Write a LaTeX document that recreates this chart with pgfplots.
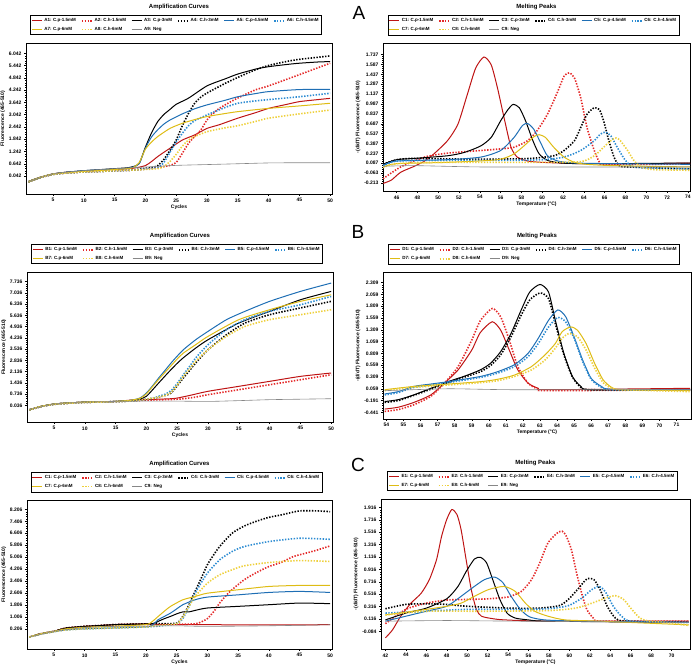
\documentclass[border=0pt]{standalone}
\usepackage{fontspec}
\setmainfont{Liberation Sans}
\usepackage{pgfplots}
\pgfplotsset{compat=1.18}
\definecolor{r1}{RGB}{190,20,20}
\definecolor{r2}{RGB}{228,40,40}
\definecolor{b1}{RGB}{30,110,180}
\definecolor{b2}{RGB}{45,140,210}
\definecolor{y1}{RGB}{222,188,20}
\definecolor{y2}{RGB}{238,208,60}
\definecolor{gy}{RGB}{135,135,135}
\pgfplotsset{
  cp/.style={line width=1pt, smooth, tension=0.4},
  ch/.style={line width=1.6pt, dash pattern=on 1.4pt off 1.5pt, smooth, tension=0.4},
  ng/.style={line width=0.6pt, smooth, tension=0.4},
  myax/.style={scale only axis, anchor=south west,
    axis line style={line width=0.8pt},
    tick align=outside, tick style={black, line width=0.4pt},
    major tick length=2pt, minor tick length=1pt,
    xtick pos=bottom, ytick pos=left,
    minor y tick num=4, minor x tick num=4,
    /pgf/number format/assume math mode=true,
    ticklabel style={font=\bfseries\fontsize{5}{6}\selectfont},
    xticklabel style={yshift=1pt},
    yticklabel style={xshift=1pt, /pgf/number format/.cd, fixed, fixed zerofill, precision=3},
    label style={font=\bfseries\fontsize{5}{6}\selectfont},
    xlabel style={yshift=4pt},
    ylabel style={yshift=-3pt},
    title style={at={(0.5,1)}, anchor=center, yshift=30pt, font=\bfseries\fontsize{6}{7}\selectfont},
    legend columns=6,
    legend cell align=left,
    legend style={at={(0.49,1.053)}, anchor=south, draw=black, line width=0.6pt,
      font=\bfseries\fontsize{4.5}{5.5}\selectfont, inner sep=0.8pt,
      /tikz/every even column/.append style={column sep=3pt}},
    legend image code/.code={\draw[#1] (0pt,0pt) -- (10pt,0pt);},
  },
}
\begin{document}
\begin{tikzpicture}
\path[use as bounding box] (0,0) rectangle (696pt,669pt);
\node[font=\fontsize{19}{20}\selectfont, anchor=center] at (359pt,656pt) {A};
\node[font=\fontsize{19}{20}\selectfont, anchor=center] at (358pt,437pt) {B};
\node[font=\fontsize{19}{20}\selectfont, anchor=center] at (358pt,204pt) {C};

% ---------------- A left ----------------
\begin{axis}[myax, at={(26pt,475pt)}, width=306pt, height=151pt,
  xmin=0.62, xmax=50.3, ymin=-0.84, ymax=6.55,
  xtick={5,10,...,50}, ytick={0.042,0.642,1.242,1.842,2.442,3.042,3.642,4.242,4.842,5.442,6.042},
  title={Amplification Curves}, xlabel={Cycles}, ylabel={Fluorescence (465-510)}]
\addplot[cp, color=r1] coordinates {(1,-0.23)(3,-0.02)(5,0.14)(7,0.22)(10,0.28)(13,0.33)(15,0.36)(18,0.42)(20,0.55)(21,0.75)(22,0.99)(23,1.2)(24,1.40)(26,1.8)(28,2.05)(30,2.37)(32,2.55)(35,2.87)(38,3.15)(40,3.35)(43,3.55)(45,3.68)(48,3.78)(50,3.84)};
\addplot[ch, color=r2] coordinates {(1,-0.25)(3,-0.03)(5,0.12)(7,0.18)(10,0.24)(13,0.27)(15,0.3)(18,0.33)(20,0.38)(22,0.45)(23,0.5)(24,0.56)(25,0.7)(26,1.15)(27,1.64)(28,1.97)(29,2.29)(30,2.78)(31,3.1)(32,3.35)(34,3.7)(36,4.0)(38,4.27)(40,4.45)(45,5.0)(50,5.56)};
\addplot[cp, color=black] coordinates {(1,-0.23)(3,-0.02)(5,0.14)(7,0.22)(10,0.3)(13,0.36)(15,0.4)(17,0.44)(18,0.5)(19,0.65)(20,1.45)(21,2.15)(22,2.7)(23,3.05)(24,3.3)(25,3.55)(27,3.85)(30,4.45)(33,4.8)(35,5.03)(38,5.28)(40,5.39)(43,5.5)(45,5.56)(48,5.62)(50,5.64)};
\addplot[ch, color=black] coordinates {(1,-0.25)(3,-0.03)(5,0.12)(7,0.18)(10,0.24)(13,0.27)(15,0.3)(18,0.33)(20,0.42)(21,0.45)(22,0.55)(23,0.85)(24,1.3)(25,1.8)(26,2.5)(27,3.1)(28,3.6)(29,3.9)(30,4.1)(33,4.58)(36,5.0)(38,5.25)(40,5.45)(43,5.65)(45,5.75)(48,5.85)(50,5.92)};
\addplot[cp, color=b1] coordinates {(1,-0.23)(3,-0.02)(5,0.14)(7,0.22)(10,0.3)(13,0.35)(15,0.38)(17,0.42)(18,0.48)(19,0.65)(20,1.4)(21,1.95)(22,2.3)(23,2.58)(24,2.78)(26,3.08)(28,3.33)(30,3.52)(33,3.75)(35,3.92)(38,4.08)(40,4.17)(45,4.27)(50,4.28)};
\addplot[ch, color=b2] coordinates {(1,-0.25)(3,-0.03)(5,0.12)(7,0.18)(10,0.24)(13,0.27)(15,0.3)(18,0.33)(20,0.38)(22,0.45)(23,0.7)(24,1.2)(25,1.7)(26,2.13)(27,2.5)(28,2.75)(30,3.03)(33,3.4)(35,3.6)(38,3.72)(40,3.78)(45,3.92)(50,4.09)};
\addplot[cp, color=y1] coordinates {(1,-0.23)(3,-0.02)(5,0.14)(7,0.2)(10,0.27)(13,0.32)(15,0.36)(17,0.4)(18,0.45)(19,0.7)(20,1.35)(21,1.7)(22,1.97)(24,2.37)(26,2.62)(28,2.8)(30,2.95)(33,3.1)(35,3.19)(40,3.35)(45,3.47)(50,3.6)};
\addplot[ch, color=y2] coordinates {(1,-0.25)(3,-0.03)(5,0.12)(7,0.18)(10,0.24)(13,0.27)(15,0.3)(18,0.33)(20,0.36)(22,0.4)(23,0.5)(24,0.75)(25,1.1)(26,1.5)(27,1.8)(28,1.97)(30,2.21)(33,2.4)(35,2.5)(38,2.72)(40,2.87)(45,3.08)(50,3.27)};
\addplot[ng, color=gy] coordinates {(1,-0.23)(5,0.14)(10,0.3)(15,0.4)(20,0.48)(25,0.56)(30,0.6)(35,0.64)(40,0.68)(45,0.69)(50,0.69)};
\legend{A1: C.p-1.5mM, A2: C.h-1.5mM, A3: C.p-3mM, A4: C.h-3mM, A5: C.p-4.5mM, A6: C.h-4.5mM, A7: C.p-6mM, A8: C.h-6mM, A9: Neg}
\end{axis}

% ---------------- A right ----------------
\begin{axis}[myax, at={(383pt,478pt)}, width=307pt, height=148pt,
  xmin=44.7, xmax=74.2, ymin=-0.335, ymax=1.913,
  xtick={46,48,...,74}, ytick={-0.213,-0.063,0.087,0.237,0.387,0.537,0.687,0.837,0.987,1.137,1.287,1.437,1.587,1.737},
  title={Melting Peaks}, xlabel={Temperature (°C)}, ylabel={-(d/dT) Fluorescence (465-510)}]
\addplot[cp, color=r1] coordinates {(44.7,-0.22)(45.5,-0.17)(46.4,-0.05)(47.7,0.04)(48.7,0.12)(49.6,0.23)(50.9,0.43)(51.9,0.68)(52.8,1.13)(53.6,1.53)(54.4,1.70)(55.1,1.58)(55.7,1.23)(56.4,0.73)(57,0.33)(57.6,0.18)(58.6,0.12)(60,0.1)(64,0.08)(70,0.08)(74.2,0.09)};
\addplot[ch, color=r2] coordinates {(44.7,-0.15)(46.4,0.03)(48.7,0.18)(50.9,0.24)(54.1,0.28)(55.7,0.3)(57.3,0.33)(58.6,0.43)(59.5,0.58)(60.5,0.83)(61.5,1.18)(62.1,1.41)(62.6,1.46)(63.1,1.38)(63.7,1.08)(64.3,0.63)(65,0.28)(65.5,0.1)(65.9,0.07)(70,0.07)(74.2,0.08)};
\addplot[cp, color=black] coordinates {(44.7,0.07)(46,0.14)(47.7,0.16)(50.9,0.2)(52.5,0.25)(54.1,0.35)(55.1,0.48)(56,0.73)(56.7,0.9)(57.2,0.98)(57.8,0.93)(58.4,0.73)(59.1,0.43)(59.7,0.23)(60.5,0.13)(61.8,0.09)(63.7,0.08)(66.9,0.08)(74.2,0.09)};
\addplot[ch, color=black] coordinates {(44.7,0.07)(46,0.14)(47.7,0.16)(52,0.15)(56,0.15)(58.9,0.16)(61.1,0.2)(62.1,0.28)(63.1,0.43)(63.7,0.63)(64.3,0.83)(65,0.93)(65.5,0.9)(65.9,0.73)(66.4,0.43)(66.9,0.18)(67.4,0.05)(68.2,0.03)(74.2,0.0)};
\addplot[cp, color=b1] coordinates {(44.7,0.05)(46,0.12)(50.9,0.14)(54.1,0.18)(56,0.28)(57.3,0.48)(58.1,0.66)(58.6,0.69)(59.2,0.6)(59.9,0.38)(60.5,0.2)(61.5,0.12)(63.1,0.09)(66.9,0.08)(74.2,0.07)};
\addplot[ch, color=b2] coordinates {(44.7,0.05)(46,0.12)(50,0.13)(56,0.13)(60,0.14)(62.1,0.18)(63.7,0.28)(65,0.43)(65.6,0.53)(66.1,0.56)(66.6,0.5)(67.2,0.33)(67.9,0.15)(68.5,0.05)(69.5,0.02)(74.2,0.0)};
\addplot[cp, color=y1] coordinates {(44.7,0.03)(46,0.08)(50.9,0.1)(55.7,0.14)(57.3,0.23)(58.6,0.4)(59.2,0.49)(59.7,0.52)(60.3,0.48)(61.1,0.33)(62.1,0.18)(63.1,0.1)(64.3,0.07)(66.9,0.05)(74.2,0.03)};
\addplot[ch, color=y2] coordinates {(44.7,0.02)(46,0.08)(50,0.1)(56,0.1)(60,0.1)(63.7,0.11)(65,0.2)(65.9,0.33)(66.6,0.43)(67.1,0.47)(67.5,0.43)(68.2,0.28)(68.8,0.13)(69.5,0.03)(70.7,-0.01)(74.2,-0.02)};
\addplot[ng, color=gy] coordinates {(44.7,0.04)(47.7,0.05)(54.1,0.03)(63.7,0.03)(74.2,0.03)};
\legend{C1: C.p-1.5mM, C2: C.h-1.5mM, C3: C.p-3mM, C4: C.h-3mM, C5: C.p-4.5mM, C6: C.h-4.5mM, C7: C.p-6mM, C8: C.h-6mM, C9: Neg}
\end{axis}

% ---------------- B left ----------------
\begin{axis}[myax, at={(27pt,247pt)}, width=306pt, height=150pt,
  xmin=0.62, xmax=50.3, ymin=-1.0, ymax=8.34,
  xtick={5,10,...,50}, ytick={0.036,0.736,1.436,2.136,2.836,3.536,4.236,4.936,5.636,6.336,7.036,7.736},
  title={Amplification Curves}, xlabel={Cycles}, ylabel={Fluorescence (465-510)}]
\addplot[cp, color=r1] coordinates {(1,-0.23)(3,-0.02)(5,0.12)(7,0.18)(10,0.24)(13,0.27)(15,0.28)(18,0.38)(20,0.4)(22,0.42)(24,0.45)(25,0.49)(27,0.65)(30,0.91)(35,1.22)(40,1.53)(45,1.84)(50,2.05)};
\addplot[ch, color=r2] coordinates {(1,-0.25)(3,-0.03)(5,0.1)(7,0.16)(10,0.22)(13,0.25)(15,0.27)(18,0.32)(20,0.36)(24,0.4)(26,0.45)(28,0.55)(30,0.7)(35,1.01)(40,1.32)(45,1.63)(50,1.94)};
\addplot[cp, color=black] coordinates {(1,-0.23)(3,-0.02)(5,0.12)(7,0.18)(10,0.24)(13,0.27)(15,0.28)(17,0.33)(18,0.36)(19,0.42)(20,0.6)(21,1.0)(22,1.43)(23,1.85)(24,2.26)(25,2.65)(26,3.0)(28,3.6)(30,4.12)(35,5.16)(40,5.89)(45,6.61)(50,7.13)};
\addplot[ch, color=black] coordinates {(1,-0.25)(3,-0.03)(5,0.1)(7,0.16)(10,0.22)(13,0.25)(15,0.27)(18,0.32)(20,0.4)(22,0.55)(23,0.65)(24,0.8)(25,1.25)(26,1.74)(27,2.2)(28,2.67)(30,3.5)(33,4.43)(36,5.16)(40,5.68)(45,6.1)(50,6.51)};
\addplot[cp, color=b1] coordinates {(1,-0.23)(3,-0.02)(5,0.12)(7,0.18)(10,0.24)(13,0.27)(15,0.28)(17,0.33)(18,0.39)(19,0.5)(20,0.8)(21,1.25)(22,1.74)(23,2.2)(24,2.67)(25,3.1)(26,3.5)(28,4.12)(30,4.64)(33,5.37)(36,5.89)(40,6.51)(45,7.13)(50,7.65)};
\addplot[ch, color=b2] coordinates {(1,-0.25)(3,-0.03)(5,0.1)(7,0.16)(10,0.22)(13,0.25)(15,0.27)(18,0.32)(20,0.42)(21,0.48)(22,0.6)(23,0.72)(24,0.95)(25,1.4)(26,1.94)(27,2.45)(28,2.98)(30,3.81)(33,4.75)(36,5.37)(40,5.89)(45,6.3)(50,6.82)};
\addplot[cp, color=y1] coordinates {(1,-0.23)(3,-0.02)(5,0.12)(7,0.18)(10,0.24)(13,0.27)(15,0.28)(17,0.33)(18,0.39)(19,0.48)(20,0.75)(21,1.2)(22,1.65)(23,2.08)(24,2.5)(25,2.92)(26,3.29)(28,3.81)(30,4.33)(35,5.37)(40,5.99)(45,6.51)(50,6.92)};
\addplot[ch, color=y2] coordinates {(1,-0.25)(3,-0.03)(5,0.1)(7,0.16)(10,0.22)(13,0.25)(15,0.27)(18,0.32)(20,0.42)(22,0.55)(23,0.65)(24,0.85)(25,1.3)(26,1.84)(27,2.3)(28,2.78)(30,3.5)(33,4.33)(36,4.95)(40,5.37)(45,5.68)(50,5.99)};
\addplot[ng, color=gy] coordinates {(1,-0.23)(5,0.12)(10,0.24)(15,0.28)(20,0.3)(25,0.3)(30,0.28)(35,0.33)(40,0.39)(45,0.42)(50,0.45)};
\legend{B1: C.p-1.5mM, B2: C.h-1.5mM, B3: C.p-3mM, B4: C.h-3mM, B5: C.p-4.5mM, B6: C.h-4.5mM, B7: C.p-6mM, B8: C.h-6mM, B9: Neg}
\end{axis}

% ---------------- B right ----------------
\begin{axis}[myax, at={(383pt,250pt)}, width=308pt, height=147pt,
  xmin=53.8, xmax=71.85, ymin=-0.58, ymax=2.534,
  xtick={54,55,...,71}, minor x tick num=0, ytick={-0.441,-0.191,0.059,0.309,0.559,0.809,1.059,1.309,1.559,1.809,2.059,2.309},
  title={Melting Peaks}, xlabel={Temperature (°C)}, ylabel={-(d/dT) Fluorescence (465-510)}]
\addplot[cp, color=r1] coordinates {(53.9,-0.37)(54.7,-0.33)(55.6,-0.23)(56.6,-0.07)(57.4,0.18)(58.2,0.46)(59,0.88)(59.5,1.25)(60.2,1.48)(60.7,1.30)(61.2,0.88)(61.7,0.46)(62.3,0.18)(62.9,0.07)(63.5,0.04)(71.8,0.07)};
\addplot[ch, color=r2] coordinates {(53.9,-0.42)(54.7,-0.38)(55.6,-0.28)(56.6,-0.1)(57.4,0.18)(58.2,0.53)(59,1.09)(59.5,1.5)(60.2,1.76)(60.7,1.58)(61.2,1.09)(61.7,0.53)(62.3,0.18)(62.9,0.05)(63.5,0.02)(71.8,0.04)};
\addplot[cp, color=black] coordinates {(53.9,-0.21)(54.7,-0.17)(55.6,-0.07)(56.6,0.07)(57.6,0.21)(58.6,0.33)(59.5,0.46)(60.1,0.6)(60.7,0.85)(61.3,1.23)(61.9,1.73)(62.4,2.11)(63,2.27)(63.5,2.11)(63.9,1.51)(64.4,0.81)(64.9,0.32)(65.4,0.11)(66,0.04)(71.8,0.04)};
\addplot[ch, color=black] coordinates {(53.9,-0.23)(54.7,-0.19)(55.6,-0.08)(56.6,0.05)(57.6,0.19)(58.6,0.31)(59.5,0.42)(60.1,0.55)(60.7,0.78)(61.3,1.16)(61.9,1.62)(62.4,1.94)(63,2.09)(63.5,1.97)(63.9,1.44)(64.4,0.78)(64.9,0.31)(65.4,0.09)(66,0.04)(71.8,0.03)};
\addplot[cp, color=b1] coordinates {(53.9,-0.05)(54.7,0.0)(55.6,0.11)(56.6,0.16)(57.6,0.21)(59.5,0.32)(60.5,0.42)(61.5,0.57)(62.3,0.81)(62.9,1.13)(63.5,1.51)(64.04,1.73)(64.5,1.59)(65,1.16)(65.5,0.67)(66,0.28)(66.6,0.11)(67.2,0.05)(71.8,0.04)};
\addplot[ch, color=b2] coordinates {(53.9,-0.07)(54.7,-0.02)(55.6,0.09)(56.6,0.14)(57.6,0.19)(59.5,0.3)(60.5,0.39)(61.5,0.53)(62.3,0.74)(62.9,1.02)(63.5,1.37)(64.04,1.57)(64.5,1.48)(65,1.13)(65.5,0.64)(66,0.26)(66.6,0.09)(67.2,0.04)(71.8,0.03)};
\addplot[cp, color=y1] coordinates {(53.9,0.04)(55.6,0.11)(57.6,0.16)(59.5,0.21)(60.5,0.26)(61.5,0.35)(62.5,0.53)(63.3,0.78)(63.9,1.02)(64.3,1.27)(64.8,1.37)(65.2,1.3)(65.7,1.02)(66.2,0.6)(66.7,0.25)(67.2,0.09)(67.8,0.04)(71.8,0.02)};
\addplot[ch, color=y2] coordinates {(53.9,0.02)(55.6,0.09)(57.6,0.14)(59.5,0.19)(60.5,0.23)(61.5,0.32)(62.5,0.46)(63.3,0.67)(63.9,0.92)(64.3,1.13)(64.7,1.23)(65.2,1.16)(65.7,0.88)(66.2,0.5)(66.7,0.19)(67.2,0.07)(67.8,0.04)(71.8,0.0)};
\addplot[ng, color=gy] coordinates {(53.9,0.02)(57.6,0.06)(61.5,0.04)(71.8,0.04)};
\legend{D1: C.p-1.5mM, D2: C.h-1.5mM, D3: C.p-3mM, D4: C.h-3mM, D5: C.p-4.5mM, D6: C.h-4.5mM, D7: C.p-6mM, D8: C.h-6mM, D9: Neg}
\end{axis}

% ---------------- C left ----------------
\begin{axis}[myax, at={(27pt,20pt)}, width=305pt, height=149pt,
  xmin=0.62, xmax=50.3, ymin=-1.13, ymax=8.83,
  xtick={5,10,...,50}, ytick={0.206,1.006,1.806,2.606,3.406,4.206,5.006,5.806,6.606,7.406,8.206},
  title={Amplification Curves}, xlabel={Cycles}, ylabel={Fluorescence (465-510)}]
\addplot[cp, color=r1] coordinates {(1,-0.33)(3,-0.1)(5,0.05)(7,0.27)(10,0.38)(13,0.45)(15,0.5)(18,0.53)(20,0.56)(22,0.52)(25,0.5)(30,0.5)(35,0.48)(40,0.48)(45,0.48)(50,0.5)};
\addplot[ch, color=r2] coordinates {(1,-0.33)(3,-0.1)(5,0.05)(7,0.27)(10,0.38)(13,0.45)(15,0.5)(18,0.53)(21,0.5)(25,0.52)(28,0.55)(29,0.68)(30,0.9)(31,1.35)(32,1.94)(33,2.42)(34,2.83)(36,3.5)(38,3.98)(40,4.38)(42,4.65)(44,5.05)(46,5.27)(48,5.5)(50,5.76)};
\addplot[cp, color=black] coordinates {(1,-0.33)(3,-0.1)(5,0.05)(7,0.27)(10,0.38)(13,0.45)(15,0.5)(18,0.53)(21,0.56)(22,0.72)(23,0.9)(24,1.05)(25,1.22)(26,1.35)(27,1.35)(28,1.45)(30,1.61)(35,1.72)(40,1.83)(45,1.94)(50,1.9)};
\addplot[ch, color=black] coordinates {(1,-0.33)(3,-0.1)(5,0.05)(7,0.27)(10,0.38)(13,0.45)(15,0.5)(18,0.53)(22,0.56)(25,0.6)(26,1.05)(27,1.83)(28,2.72)(29,3.6)(30,4.5)(31,5.15)(32,5.72)(34,6.6)(36,7.09)(38,7.41)(40,7.67)(42,7.83)(45,8.1)(48,8.1)(50,8.05)};
\addplot[cp, color=b1] coordinates {(1,-0.33)(3,-0.12)(5,0.03)(7,0.15)(10,0.22)(15,0.28)(20,0.35)(21,0.45)(22,0.83)(23,1.05)(24,1.27)(25,1.55)(26,1.83)(28,2.16)(30,2.34)(35,2.49)(40,2.65)(45,2.72)(50,2.65)};
\addplot[ch, color=b2] coordinates {(1,-0.33)(3,-0.12)(5,0.03)(7,0.15)(10,0.22)(15,0.28)(20,0.35)(22,0.4)(25,0.56)(26,0.9)(27,1.7)(28,2.6)(29,3.3)(30,3.94)(32,4.83)(34,5.38)(36,5.72)(40,6.05)(45,6.27)(50,6.2)};
\addplot[cp, color=y1] coordinates {(1,-0.33)(3,-0.1)(5,0.05)(7,0.22)(10,0.32)(15,0.4)(20,0.5)(21,0.7)(22,1.05)(23,1.4)(24,1.72)(26,2.16)(28,2.38)(30,2.6)(35,2.83)(40,3.05)(45,3.12)(50,3.12)};
\addplot[ch, color=y2] coordinates {(1,-0.33)(3,-0.12)(5,0.03)(7,0.15)(10,0.22)(15,0.28)(20,0.35)(22,0.45)(25,0.56)(26,1.0)(27,1.72)(28,2.38)(30,3.27)(32,3.83)(34,4.16)(36,4.43)(40,4.65)(45,4.78)(50,4.72)};
\addplot[ng, color=gy] coordinates {(1,-0.33)(5,0.05)(10,0.3)(15,0.38)(20,0.4)(25,0.42)(30,0.38)(40,0.42)(50,0.49)};
\legend{C1: C.p-1.5mM, C2: C.h-1.5mM, C3: C.p-3mM, C4: C.h-3mM, C5: C.p-4.5mM, C6: C.h-4.5mM, C7: C.p-6mM, C8: C.h-6mM, C9: Neg}
\end{axis}

% ---------------- C right ----------------
\begin{axis}[myax, at={(381pt,20pt)}, width=309pt, height=150pt,
  xmin=41.57, xmax=71.8, ymin=-0.369, ymax=2.05,
  xtick={42,44,...,70}, ytick={-0.084,0.116,0.316,0.516,0.716,0.916,1.116,1.316,1.516,1.716,1.916},
  title={Melting Peaks}, xlabel={Temperature (°C)}, ylabel={-(d/dT) Fluorescence (465-510)}]
\addplot[cp, color=r1] coordinates {(42,-0.19)(42.7,-0.06)(43.5,0.16)(44.5,0.37)(45.5,0.53)(46.3,0.75)(47,1.07)(47.5,1.45)(48,1.72)(48.5,1.88)(49,1.8)(49.4,1.56)(49.9,1.07)(50.4,0.59)(50.9,0.27)(51.4,0.16)(52.5,0.12)(53.7,0.1)(57.9,0.08)(71.7,0.08)};
\addplot[ch, color=r2] coordinates {(42,0.04)(44,0.27)(46,0.37)(48,0.42)(50,0.43)(52,0.44)(54,0.47)(55.3,0.56)(56.3,0.75)(57.1,1.02)(57.9,1.34)(58.8,1.5)(59.3,1.53)(59.7,1.45)(60.2,1.23)(60.7,0.86)(61.2,0.53)(61.7,0.27)(62.4,0.12)(63.2,0.08)(71.7,0.08)};
\addplot[cp, color=black] coordinates {(42,0.1)(44,0.21)(46,0.29)(48,0.44)(49.1,0.64)(49.9,0.88)(50.7,1.08)(51.3,1.11)(51.9,1.02)(52.5,0.75)(53.2,0.43)(53.9,0.21)(54.7,0.13)(56,0.1)(57.9,0.08)(71.7,0.06)};
\addplot[ch, color=black] coordinates {(42,0.28)(44,0.35)(46,0.36)(48,0.35)(50,0.32)(54,0.29)(57,0.29)(59,0.33)(59.9,0.43)(60.9,0.61)(61.7,0.76)(62.4,0.75)(63,0.59)(63.7,0.32)(64.5,0.13)(65.5,0.08)(71.7,0.06)};
\addplot[cp, color=b1] coordinates {(42,0.08)(44,0.16)(46,0.24)(48,0.32)(49.4,0.48)(50.7,0.64)(51.7,0.75)(52.7,0.79)(53.5,0.7)(54.3,0.48)(55.2,0.27)(56.1,0.15)(57.6,0.1)(61.2,0.08)(71.7,0.06)};
\addplot[ch, color=b2] coordinates {(42,0.21)(46,0.24)(50,0.27)(54.7,0.27)(57.9,0.28)(59.9,0.33)(61.2,0.45)(62.2,0.59)(62.9,0.64)(63.5,0.56)(64.3,0.32)(65.1,0.16)(66.1,0.08)(71.7,0.06)};
\addplot[cp, color=y1] coordinates {(42,0.18)(46,0.27)(48,0.32)(49.4,0.37)(50.7,0.48)(52.1,0.59)(53.6,0.64)(54.7,0.56)(55.7,0.37)(56.6,0.24)(57.9,0.16)(59.6,0.1)(62.9,0.08)(71.7,0.02)};
\addplot[ch, color=y2] coordinates {(42,0.18)(46,0.24)(51.4,0.24)(57.9,0.25)(60.6,0.29)(62.2,0.37)(63.5,0.45)(64.5,0.49)(65.3,0.43)(66.1,0.27)(66.9,0.13)(67.8,0.08)(69.4,0.06)(71.7,0.01)};
\addplot[ng, color=gy] coordinates {(42,0.08)(48,0.09)(54.7,0.08)(71.7,0.06)};
\legend{E1: C.p-1.5mM, E2: C.h-1.5mM, E3: C.p-3mM, E4: C.h-3mM, E5: C.p-4.5mM, E6: C.h-4.5mM, E7: C.p-6mM, E8: C.h-6mM, E9: Neg}
\end{axis}
\end{tikzpicture}
\end{document}
